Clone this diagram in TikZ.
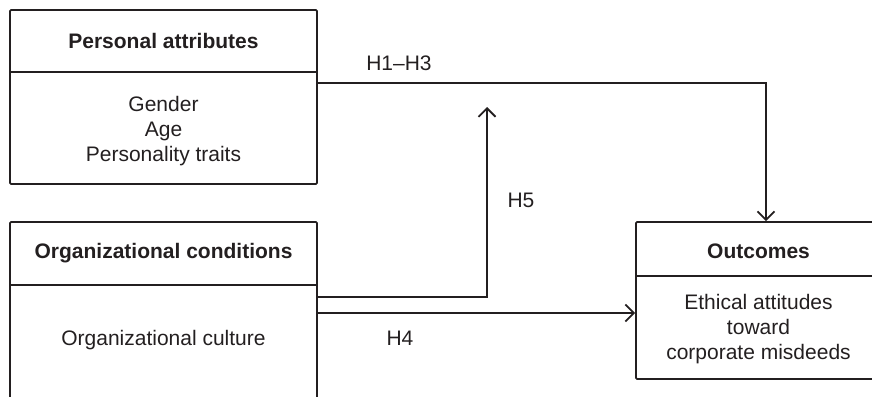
\documentclass[tikz,border=0pt]{standalone}
\usepackage{fontspec}
\setmainfont{Liberation Sans}
\usetikzlibrary{arrows.meta}
\definecolor{ink}{HTML}{231F20}
\tikzset{
  box/.style={draw=ink, line width=1.8pt, rounded corners=1.2pt, inner sep=0pt},
  txt/.style={text=ink, font=\fontsize{21}{25}\selectfont, align=center, inner sep=0pt},
  ttl/.style={txt, font=\fontsize{21}{25}\selectfont\bfseries},
  rule/.style={draw=ink, line width=1.8pt},
  conn/.style={draw=ink, line width=1.8pt, -{Straight Barb[length=8.5pt,width=17pt,line width=1.8pt]}}
}
\begin{document}
\begin{tikzpicture}[x=1pt,y=-1pt]
\useasboundingbox (0,0) rectangle (872,396);
\clip (0,0) rectangle (872,396);
% boxes
\node[box, minimum width=307pt, minimum height=174pt] (pa) at (163.5,97) {};
\node[box, minimum width=307pt, minimum height=188pt] (oc) at (163.5,316) {};
\node[box, minimum width=245pt, minimum height=157pt] (out) at (758.5,300.5) {};
% dividers
\coordinate (d1) at (0,72);
\coordinate (d2) at (0,285);
\coordinate (d3) at (0,276);
\draw[rule] (pa.west |- d1) -- (pa.east |- d1);
\draw[rule] (oc.west |- d2) -- (oc.east |- d2);
\draw[rule] (out.west |- d3) -- (out.east |- d3);
% texts
\node[ttl] (pat) at (163.5,41) {Personal attributes};
\node[txt] (pab) at (163.5,131) {Gender\\Age\\Personality traits};
\node[ttl] (oct) at (163.5,253) {Organizational conditions};
\node[txt] (ocb) at (163.5,340) {Organizational culture};
\node[ttl] (outt) at (758.5,251) {Outcomes};
\node[txt] (outb) at (758.5,329) {Ethical attitudes\\toward\\corporate misdeeds};
% connectors
\coordinate (j1) at (766,83);
\draw[conn] (pa.east |- j1) -- (j1) -- (out.north -| j1);
\coordinate (j2) at (487,297);
\coordinate (t5) at (487,107);
\draw[conn] (oc.east |- j2) -- (j2) -- (t5);
\coordinate (j4) at (0,313);
\draw[conn] (oc.east |- j4) -- (out.west |- j4);
% labels
\node[txt] (h13) at (399,63) {H1--H3};
\node[txt] (h5) at (521,200) {H5};
\node[txt] (h4) at (400,338) {H4};
\end{tikzpicture}
\end{document}
